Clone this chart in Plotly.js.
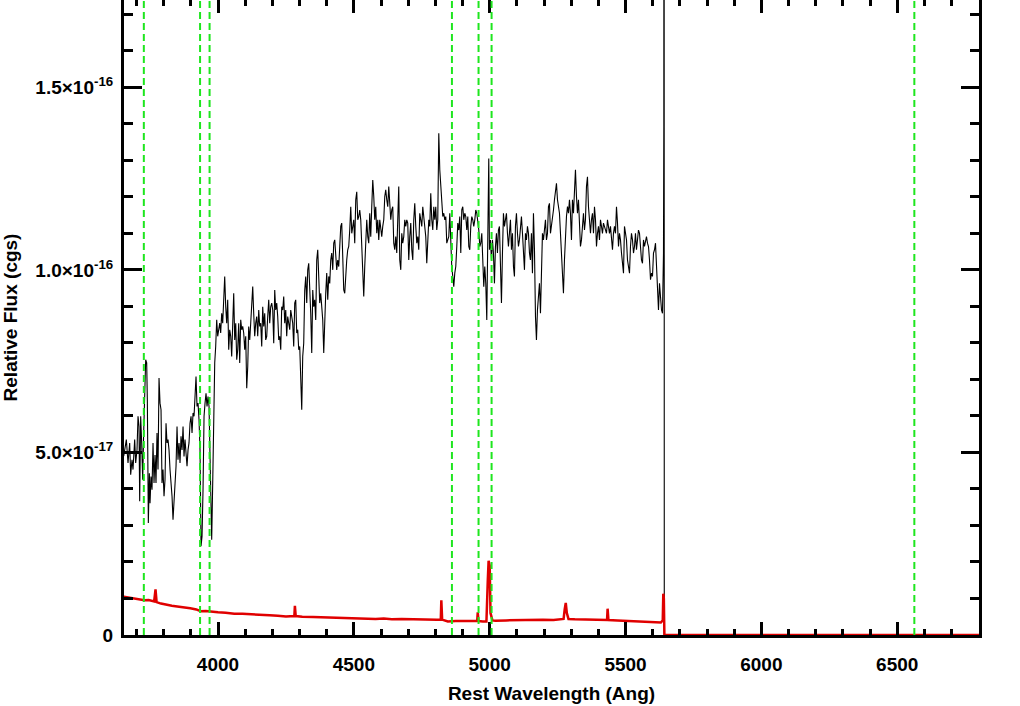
<!DOCTYPE html>
<html>
<head>
<meta charset="utf-8">
<script src="https://cdn.plot.ly/plotly-3.0.1.min.js"></script>
<style>html,body{margin:0;padding:0;background:#fff;}#chart{width:1020px;height:706px;}</style>
</head>
<body>
<div id="chart"></div>
<script>
// Observed spectrum: rest wavelength (Angstrom) and flux in units of 1e-17 cgs
const blackWave = [3653,
3656.5,3662.6,3668.8,3674.9,3678.6,3683.5,3687.2,3693.3,3697.0,3701.9,
3705.6,3709.3,3711.7,3715.4,3719.1,3722.8,3726.4,3730.1,3733.8,3737.5,
3739.9,3743.6,3747.3,3749.8,3753.4,3757.1,3760.8,3764.5,3768.2,3771.8,
3775.5,3779.2,3782.9,3786.6,3790.3,3793.9,3797.6,3801.3,3805.0,3808.7,
3812.3,3816.0,3819.7,3823.4,3827.1,3830.8,3834.4,3838.1,3841.8,3845.5,
3849.2,3852.8,3856.5,3860.2,3863.9,3867.6,3871.3,3874.9,3878.6,3882.3,
3886.0,3889.7,3893.3,3897.0,3900.7,3904.4,3908.1,3911.8,3915.4,3919.1,
3922.8,3926.5,3930.2,3933.8,3937.5,3941.2,3944.9,3948.6,3952.3,3955.9,
3959.6,3963.3,3967.0,3969.4,3973.1,3976.8,3980.5,3984.2,3987.9,3991.5,
3995.2,3998.9,4002.6,4006.3,4009.9,4013.6,4017.3,4021.0,4024.7,4028.4,
4032.0,4035.7,4039.4,4043.1,4046.8,4050.4,4054.1,4057.8,4061.5,4065.2,
4068.9,4072.5,4076.2,4079.9,4083.6,4087.3,4090.9,4094.6,4098.3,4102.0,
4105.7,4109.4,4113.0,4116.7,4120.4,4124.1,4127.8,4131.4,4135.1,4138.8,
4142.5,4146.2,4149.9,4153.5,4157.2,4160.9,4164.6,4168.3,4171.9,4175.6,
4179.3,4183.0,4186.7,4190.4,4194.0,4197.7,4201.4,4205.1,4208.8,4212.4,
4216.1,4219.8,4223.5,4227.2,4230.9,4234.5,4238.2,4241.9,4245.6,4249.3,
4252.9,4256.6,4260.3,4264.0,4267.7,4271.4,4275.0,4278.7,4282.4,4286.1,
4289.8,4293.4,4297.1,4300.8,4304.5,4308.2,4311.8,4315.5,4319.2,4322.9,
4326.6,4330.3,4333.9,4337.6,
4341.3,4345.0,4348.7,4352.3,4356.0,4359.7,4363.4,4367.1,4370.8,4374.4,
4378.1,4381.8,4385.5,4389.2,4392.8,4396.5,4400.2,4403.9,4407.6,4411.3,
4414.9,4418.6,4422.3,4426.0,4429.7,4433.3,4437.0,4440.7,4444.4,4448.1,
4451.8,4455.4,4459.1,4462.8,4466.5,4470.2,4473.8,4477.5,4481.2,4484.9,
4488.6,4492.3,4495.9,4499.6,4503.3,4507.0,4510.7,4514.3,4518.0,4521.7,
4525.4,4529.1,4532.8,4536.4,4540.1,4543.8,4547.5,4551.2,4554.8,4558.5,
4562.2,4565.9,4569.6,4573.3,4576.9,4580.6,4584.3,4588.0,4591.7,4595.4,
4599.0,4602.7,4606.4,4610.1,4613.8,4617.4,4621.1,4624.8,4628.5,4632.2,
4635.9,4639.5,4643.2,4646.9,4650.6,4654.3,4657.9,4661.6,4665.3,4669.0,
4672.7,4676.4,4680.0,4683.7,4687.4,4691.1,4694.8,4698.4,4702.1,4705.8,
4709.5,4713.2,4716.9,4720.5,4724.2,4727.9,4731.6,4735.3,4738.9,4742.6,
4746.3,4750.0,4753.7,4757.4,4761.0,4764.7,4768.4,4772.1,4775.8,4779.4,
4783.1,4786.8,4790.5,4794.2,4797.9,4801.5,4805.2,4808.9,4812.6,4816.3,
4819.9,4823.6,4827.3,4831.0,4834.7,4838.4,4842.0,4845.7,4849.4,4853.1,
4856.8,4860.4,4864.1,4867.8,4871.5,4875.2,4878.9,4882.5,4886.2,4889.9,
4893.6,4897.3,4900.9,4904.6,4908.3,4912.0,4915.7,4919.4,4923.0,4926.7,
4930.4,4934.1,4937.8,4941.4,4945.1,4948.8,4952.5,4956.2,4959.9,4963.5,
4967.2,4970.9,4974.5,4978.2,4981.9,4985.6,4989.3,4993.0,4995.4,4996.6,
4999.1,5002.8,5006.5,5010.1,5013.8,5017.5,5021.2,5024.9,5028.5,5032.2,
5035.9,5039.6,5043.3,5047.0,5050.6,5054.3,5058.0,5061.7,5065.4,5069.0,
5072.7,5076.4,5080.1,5083.8,5087.5,5091.1,5094.8,5098.5,5102.2,5105.9,
5109.5,5113.2,5116.9,5120.6,5124.3,5128.0,5131.6,5135.3,5139.0,5142.7,
5146.4,5150.0,5153.7,5157.4,5161.1,5164.8,5168.5,5172.1,5175.8,5179.5,
5183.2,5186.9,5190.5,5194.2,5197.9,5201.6,5205.3,5209.0,5212.6,5216.3,
5220.0,5223.7,5227.4,5231.0,5234.7,5238.4,5242.1,5245.8,5249.5,5253.1,
5256.8,5260.5,5264.2,5267.9,5271.5,5275.2,5278.9,5282.6,5286.3,5290.0,
5293.6,5297.3,5301.0,5304.7,5308.4,5312.0,5315.7,5319.4,5323.1,5326.8,
5330.5,5334.1,5337.8,5341.5,5345.2,5348.9,5352.5,5356.2,5359.9,5363.6,
5367.3,5371.0,5374.6,5378.3,5382.0,5385.7,5389.4,5393.1,5396.7,5400.4,
5404.1,5407.8,5411.5,5415.1,5418.8,5422.5,5426.2,5429.9,5433.6,5437.2,
5440.9,5444.6,5448.3,5452.0,5455.6,5459.3,5463.0,5466.7,5470.4,5474.1,
5477.7,5481.4,5485.1,5488.8,5492.5,5496.1,5499.8,5503.5,5507.2,5510.9,
5514.6,5518.2,5521.9,5525.6,5529.3,5533.0,5536.6,5540.3,5544.0,5547.7,
5551.4,5555.1,5558.7,5562.4,5566.1,5569.8,5573.5,5577.1,5580.8,5584.5,
5588.2,5591.9,5595.6,5599.2,5602.9,5606.6,5610.3,5614.0,5617.6,5621.3,
5625.0,5628.7,5632.4,5636.0,5639.7,5640.9,
5641.8,5642.6,6801];
const blackFlux = [4.90,
5.07,5.35,4.71,5.26,4.39,4.80,4.53,5.35,4.71,5.07,
5.99,5.71,3.66,5.99,5.26,4.25,5.53,6.53,7.54,7.45,
6.44,3.07,4.43,3.61,4.34,3.98,5.26,4.16,4.93,4.16,
5.53,4.53,7.04,6.35,6.17,4.16,4.53,3.80,4.25,5.80,
5.26,5.35,5.07,4.53,4.16,3.80,3.16,3.61,4.16,4.62,
5.71,4.80,5.26,4.71,5.44,5.07,5.71,4.89,5.35,4.80,
4.62,5.07,5.26,5.80,5.99,5.53,6.08,5.99,6.53,7.08,
6.26,6.35,5.89,5.07,2.43,2.70,3.98,5.99,6.35,6.62,
6.26,6.53,6.26,5.07,3.52,2.61,4.16,6.35,7.45,7.90,
8.63,8.18,8.36,8.54,8.27,8.81,8.54,9.36,9.82,8.99,
8.54,9.18,7.81,8.36,8.18,7.63,8.63,9.36,8.08,8.54,
7.54,7.81,8.54,7.45,8.63,8.36,8.45,8.27,7.81,8.18,
6.76,7.35,8.45,8.08,8.54,9.18,9.54,8.81,8.18,8.54,
8.72,8.18,8.90,8.45,8.54,7.90,8.99,8.45,8.81,8.08,
8.18,8.72,9.18,8.54,8.99,9.09,8.90,7.99,9.45,8.90,
9.09,8.72,8.08,8.18,7.81,8.99,8.90,9.27,8.54,8.90,
8.18,8.72,8.54,8.36,8.90,8.72,8.54,7.90,9.09,9.18,
8.27,8.36,7.81,7.90,7.26,6.17,7.63,7.99,9.45,9.82,
9.09,10.00,10.18,9.64,
8.81,7.72,9.45,8.99,9.18,8.63,10.27,10.55,9.63,9.09,
9.36,8.99,8.63,7.72,8.72,9.36,9.91,9.18,9.82,9.63,
10.27,10.46,10.00,10.73,10.82,10.46,10.00,10.27,10.09,10.64,
11.19,11.28,10.09,9.45,9.36,10.00,10.27,10.55,10.64,11.09,
11.73,11.00,11.19,11.37,10.73,11.92,12.14,11.37,11.46,11.64,
11.37,10.46,9.82,9.27,10.09,10.82,11.37,10.91,10.73,11.55,
10.91,11.73,12.46,12.01,11.37,11.73,11.00,11.37,10.82,11.37,
11.09,10.91,11.19,11.37,12.01,12.19,11.92,11.73,12.28,11.92,
11.37,11.64,11.73,10.73,10.55,10.91,10.46,11.37,12.28,10.27,
10.00,11.00,10.73,10.91,11.37,11.19,11.37,11.28,10.27,10.91,
11.28,10.55,10.27,11.37,11.82,11.19,10.73,10.91,10.55,11.55,
11.37,11.19,11.73,11.46,11.00,10.91,10.18,10.64,11.37,11.19,
12.10,11.37,11.09,11.73,11.37,11.73,11.09,11.37,13.74,12.74,
12.28,11.64,11.46,11.55,11.37,11.46,10.73,10.82,10.91,11.55,
10.55,10.09,9.82,9.54,9.91,10.09,10.64,11.28,11.09,11.46,
10.46,11.64,11.73,11.37,11.55,11.46,11.09,11.46,10.64,10.55,
11.19,11.46,11.37,11.19,11.37,11.64,11.55,11.37,11.09,10.64,
10.73,11.00,10.46,9.54,10.09,9.63,8.63,11.00,11.60,13.05,
10.55,10.82,10.27,10.82,10.46,9.63,10.64,11.00,10.46,11.09,
11.19,9.63,9.09,10.46,11.55,11.19,11.37,11.55,11.00,10.64,
11.00,11.37,10.55,11.00,10.09,9.82,11.19,11.55,11.00,10.64,
10.82,11.19,11.46,11.00,10.46,10.00,11.00,10.82,11.19,11.00,
10.46,10.27,11.00,9.91,11.55,10.55,8.72,8.08,8.90,9.36,
9.63,8.81,10.09,11.00,10.82,11.19,11.37,10.82,11.00,11.73,
11.82,11.00,11.19,11.37,11.64,11.92,12.28,12.37,11.92,11.73,
11.55,11.00,10.27,9.82,9.36,10.27,11.00,11.46,11.73,11.55,
11.92,11.55,10.82,11.92,11.55,12.37,12.74,12.01,11.55,11.92,
11.09,10.64,10.82,11.19,11.55,11.09,11.37,12.28,12.55,11.73,
11.19,11.00,11.37,11.55,11.00,11.73,11.37,10.64,11.00,11.19,
10.82,11.37,11.19,11.00,11.28,11.19,11.09,11.00,11.37,11.09,
11.00,11.19,10.82,10.55,11.00,11.19,11.00,11.73,11.28,10.64,
11.00,10.82,10.46,10.09,9.91,11.19,11.00,10.82,10.27,10.09,
9.91,10.64,11.00,10.82,10.46,10.64,11.00,10.55,10.82,11.09,
11.00,10.64,10.27,10.18,10.82,10.64,10.82,10.91,10.73,10.64,
10.27,9.73,9.91,9.82,10.46,10.55,10.73,10.09,9.54,8.90,
9.63,9.18,8.90,8.81,10.46,13.92,
40.0,0,0];

// Error spectrum (red), same units
const errWave = [3653,3680,3700,3718,3729,3745,3765,3770,3774,3790,3807,3830,3850,3875,3898,3920,3936,3955,3980,4000,4028,4060,4090,4125,4157,4190,4220,4250,4281,4283,4286,4310,4350,4385,4417,4450,4480,4510,4547,4580,4610,4640,4676,4710,4750,4780,4806,4820,4822,4825,4846,4875,4900,4920,4936,4954,4956,4959,4975,4988,4993,4996,5000,5003,5010,5021,5060,5100,5150,5196,5235,5272,5276,5280,5284,5290,5313,5355,5400,5432,5434,5437,5470,5500,5540,5585,5610,5630,5637,5639,5641,5643,6801];
const errFlux = [1.05,1.02,1.00,0.97,0.95,0.96,0.92,1.25,0.90,0.86,0.83,0.80,0.78,0.76,0.73,0.70,0.65,0.66,0.63,0.62,0.61,0.58,0.58,0.56,0.545,0.54,0.53,0.51,0.52,0.80,0.52,0.50,0.49,0.48,0.47,0.46,0.45,0.46,0.44,0.44,0.45,0.43,0.44,0.43,0.43,0.41,0.42,0.42,0.95,0.42,0.37,0.38,0.37,0.38,0.38,0.38,0.62,0.38,0.37,0.37,1.50,2.03,1.90,0.60,0.40,0.39,0.40,0.41,0.42,0.42,0.41,0.44,0.70,0.88,0.60,0.44,0.43,0.42,0.41,0.41,0.72,0.41,0.40,0.39,0.38,0.37,0.35,0.34,0.40,1.13,1.00,0,0];

// Marked emission/absorption line wavelengths
const lineWaves = [3727, 3934, 3969, 4861, 4959, 5007, 6563];

// Axis ticks
const fluxUnit = 1e-17;
const yTickVals = [0, 5e-17, 1e-16, 1.5e-16];
const yTickText = ['0', '5.0\u00d710<sup>-17</sup>', '1.0\u00d710<sup>-16</sup>', '1.5\u00d710<sup>-16</sup>'];
const xRange = [3654, 6801];
const yRange = [0, 1.739e-16];

const toCgs = arr => arr.map(v => v * fluxUnit);

const traces = [
  {x: blackWave, y: toCgs(blackFlux), type: 'scatter', mode: 'lines',
   line: {color: '#000000', width: 1.1}, hoverinfo: 'skip'},
  {x: errWave, y: toCgs(errFlux), type: 'scatter', mode: 'lines',
   line: {color: '#e00000', width: 2.5}, hoverinfo: 'skip'}
];

const shapes = lineWaves.map(w => ({
  type: 'line', xref: 'x', yref: 'paper', x0: w, x1: w, y0: 0, y1: 1,
  line: {color: '#1ee61e', width: 2, dash: '7px,4px'}, layer: 'above'
}));

const fontFam = 'Liberation Sans, Arial, Helvetica, sans-serif';

const layout = {
  width: 1020, height: 706,
  margin: {l: 124, r: 41, t: 0, b: 71, pad: 0},
  paper_bgcolor: '#ffffff', plot_bgcolor: '#ffffff',
  showlegend: false,
  font: {family: fontFam, color: '#000000', size: 19},
  shapes: shapes,
  xaxis: {
    range: xRange, tick0: 0, dtick: 500,
    ticks: 'inside', ticklen: 13, tickwidth: 3, tickcolor: '#000',
    showline: true, linewidth: 3, linecolor: '#000', mirror: 'allticks',
    showgrid: false, zeroline: false,
    minor: {tick0: 0, dtick: 100, ticks: 'inside', ticklen: 6, tickwidth: 3, tickcolor: '#000', showgrid: false},
    tickfont: {family: fontFam, size: 19, weight: 'bold', color: '#000'},
    ticklabelstandoff: 10,
    title: {text: 'Rest Wavelength (Ang)', font: {family: fontFam, size: 19, weight: 'bold', color: '#000'}, standoff: 13}
  },
  yaxis: {
    range: yRange, tickmode: 'array', tickvals: yTickVals, ticktext: yTickText,
    ticks: 'inside', ticklen: 18, tickwidth: 3, tickcolor: '#000',
    showline: true, linewidth: 3, linecolor: '#000', mirror: 'allticks',
    showgrid: false, zeroline: false,
    minor: {tickmode: 'linear', tick0: 0, dtick: 1e-17, ticks: 'inside', ticklen: 9, tickwidth: 3, tickcolor: '#000', showgrid: false},
    tickfont: {family: fontFam, size: 19, weight: 'bold', color: '#000'},
    ticklabelstandoff: 4,
    title: {text: 'Relative Flux (cgs)', font: {family: fontFam, size: 19, weight: 'bold', color: '#000'}, standoff: 14}
  }
};

Plotly.newPlot('chart', traces, layout, {staticPlot: true, displayModeBar: false});
</script>
</body>
</html>
